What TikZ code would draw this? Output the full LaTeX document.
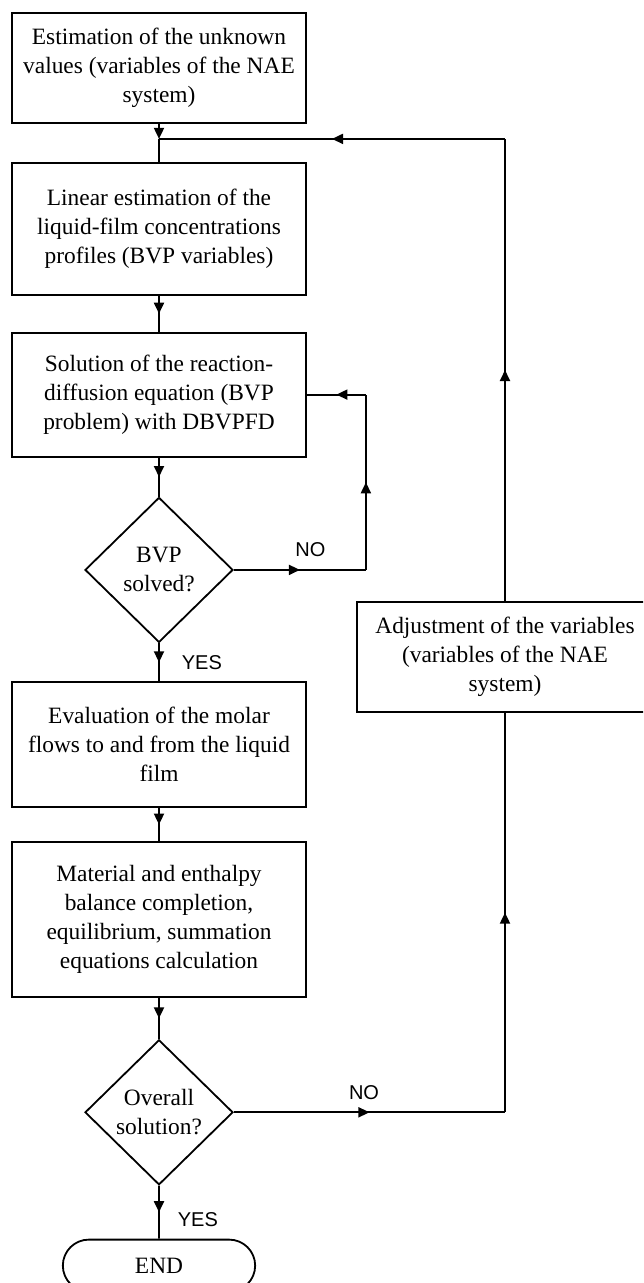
\documentclass[tikz,border=0pt]{standalone}
\usepackage{fontspec}
\setmainfont{Liberation Serif}
\newfontfamily\labelfont{Liberation Sans}
\usetikzlibrary{positioning}
\usetikzlibrary{shapes.geometric,shapes.misc}
\usetikzlibrary{arrows.meta,decorations.markings}

\begin{document}
\begin{tikzpicture}[
    x=1pt, y=-1pt,
    node distance=38pt, % Vertical gap between the steps
    line width=1.8pt,
    box/.style={
        draw,
        rectangle,
        minimum width=294pt,
        align=center,
        inner sep=0pt,
        font=\fontsize{23.4}{29}\selectfont
    },
    decision/.style={
        draw,
        diamond,
        minimum width=148pt,
        minimum height=145pt,
        align=center,
        inner sep=0pt,
        font=\fontsize{23.4}{29}\selectfont
    },
    terminal/.style={
        draw,
        rounded rectangle,
        minimum width=199pt,
        minimum height=52pt,
        font=\fontsize{23.4}{29}\selectfont
    },
    arrow/.style={
        -{Triangle[length=11pt,width=10pt]}
    },
    flow/.style={
        postaction={decorate},
        decoration={markings,
            mark=at position 0.5 with {\arrow{Triangle[length=11pt,width=10pt]}}}
    },
    answer/.style={
        inner sep=0pt,
        font=\labelfont\fontsize{20}{24}\selectfont
    }
]
    \clip (0,0) rectangle (643,1283);

    % --- Main column of steps ---
    \node[box, minimum height=110pt] (estim) at (159,68)
        {Estimation of the unknown\\values (variables of the NAE\\system)};
    \node[box, minimum height=132pt, below=of estim] (linear)
        {Linear estimation of the\\liquid-film concentrations\\profiles (BVP variables)};
    \node[box, minimum height=124pt, below=36pt of linear] (solve)
        {Solution of the reaction-\\diffusion equation (BVP\\problem) with DBVPFD};
    \node[decision, below=39pt of solve] (bvpok) {BVP\\solved?};
    \node[box, minimum height=125pt, below=of bvpok] (molar)
        {Evaluation of the molar\\flows to and from the liquid\\film};
    \node[box, minimum height=155pt, below=33pt of molar] (balance)
        {Material and enthalpy\\balance completion,\\equilibrium, summation\\equations calculation};
    \node[decision, below=41pt of balance] (allok) {Overall\\solution?};
    \node[terminal, below=53pt of allok] (finish) {END};

    % --- Side step of the outer loop ---
    \node[box, minimum width=296pt, minimum height=110pt] (adjust) at (505,657)
        {Adjustment of the variables\\(variables of the NAE\\system)};

    % --- Connectors down the column ---
    \coordinate[below=15pt of estim.south] (join);
    \draw[arrow] (estim) -- (join);
    \draw (join) -- (linear);
    \draw[flow] (linear) -- (solve);
    \draw[flow] (solve) -- (bvpok);
    \draw[flow] (bvpok) -- node[answer, right=22pt, pos=0.5] {YES} (molar);
    \draw[flow] (molar) -- (balance);
    \draw[flow] (balance) -- (allok);
    \draw[flow] (allok) -- node[answer, right=18pt, pos=0.64] {YES} (finish);

    % --- Inner loop: BVP not solved ---
    \coordinate[right=132pt of bvpok.east] (bvpturn);
    \coordinate (bvptop) at (bvpturn |- solve.east);
    \draw[flow] (bvpok.east) -- node[answer, above=12pt, pos=0.58] {NO} (bvpturn);
    \draw[flow] (bvpturn) -- (bvptop);
    \draw[flow] (bvptop) -- (solve.east);

    % --- Outer loop: no overall solution ---
    \coordinate (allturn) at (adjust.south |- allok.east);
    \coordinate (adjtop) at (adjust.north |- join);
    \draw[flow] (allok.east) -- node[answer, above=12pt, pos=0.48] {NO} (allturn);
    \draw[flow] (allturn) -- (adjust.south);
    \draw[flow] (adjust.north) -- (adjtop);
    \draw[flow] (adjtop) -- (join);
\end{tikzpicture}
\end{document}
